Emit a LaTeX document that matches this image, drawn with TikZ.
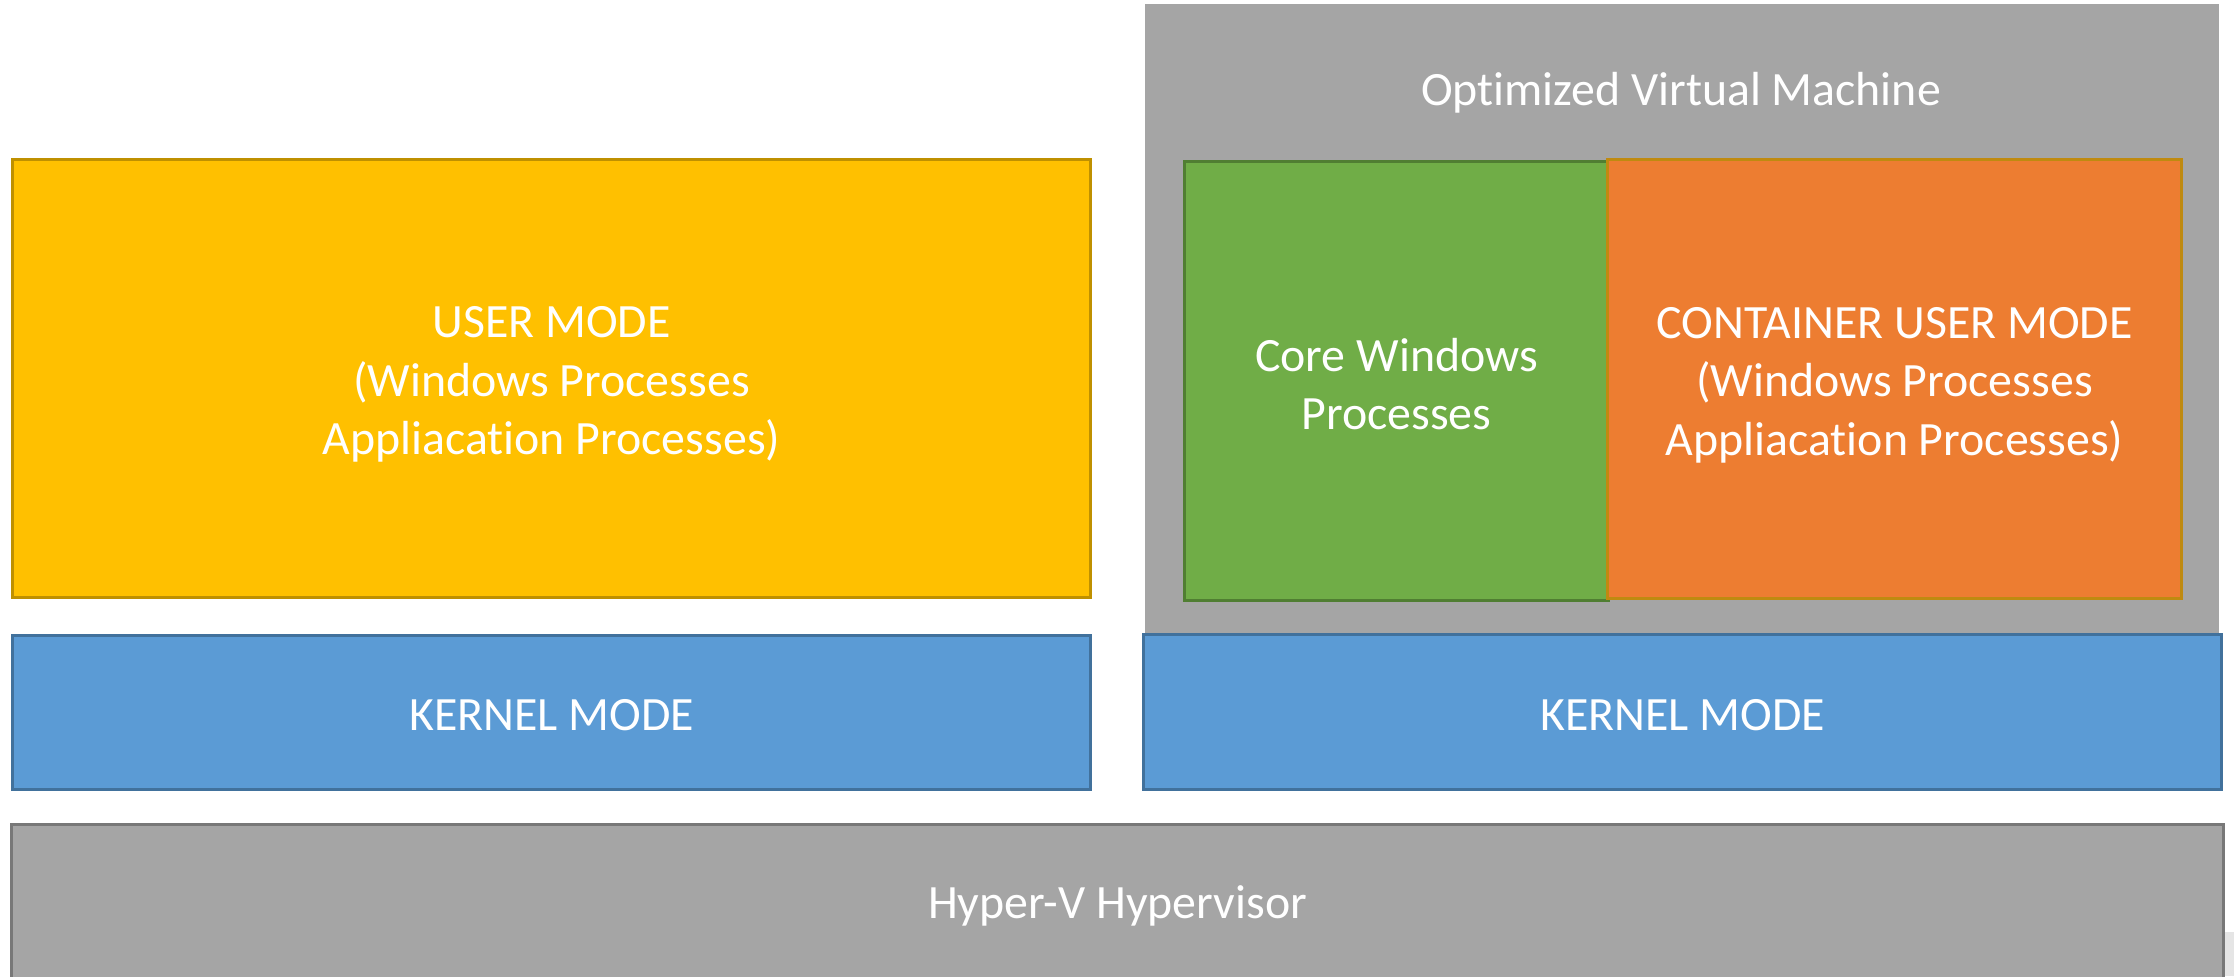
\documentclass[tikz,border=0pt]{standalone}
\usepackage{fontspec}
\setmainfont{Carlito}[Ligatures=NoCommon]
\usepackage{tikz}
\definecolor{umode}{HTML}{FFC000}
\definecolor{umodeline}{HTML}{BF9000}
\definecolor{kmode}{HTML}{5B9BD5}
\definecolor{kmodeline}{HTML}{41719C}
\definecolor{hvgray}{HTML}{A5A5A5}
\definecolor{hvline}{HTML}{787878}
\definecolor{core}{HTML}{70AD47}
\definecolor{coreline}{HTML}{507E32}
\definecolor{cont}{HTML}{ED7D31}
\definecolor{contline}{HTML}{BF8A10}
\def\TXT{\fontsize{13.6}{16.6}\selectfont}

\begin{document}
\begin{tikzpicture}[x=0.01cm,y=-0.01cm,
  layer/.style={rectangle,inner sep=0pt,line width=0.85pt},
  txt/.style={text=white,align=center,font=\TXT,yshift=-0.03cm}]
\useasboundingbox (0,0) rectangle (2234,976);
\begin{scope}
\clip (0,0) rectangle (2234,976);
% host side
\node[layer,fill=umode,draw=umodeline,minimum width=10.77cm,minimum height=4.37cm,
  label={[txt,yshift=-0.03cm]center:USER MODE\\(Windows Processes\\Appliacation Processes)}]
  (user) at (551.5,378.5) {};
\node[layer,fill=kmode,draw=kmodeline,minimum width=10.77cm,minimum height=1.53cm,
  label={[txt]center:KERNEL MODE}]
  (kernL) at (551.5,712.5) {};
% optimized VM
\node[layer,fill=hvgray,minimum width=10.74cm,minimum height=6.30cm]
  (vm) at (1682,319) {};
\node[txt] (vmlabel) at (1681,90) {Optimized Virtual Machine};
\node[layer,fill=core,draw=coreline,minimum width=4.23cm,minimum height=4.38cm,
  label={[txt]center:Core Windows\\Processes}]
  (core) at (1396.5,381) {};
\node[layer,fill=cont,draw=contline,minimum width=5.73cm,minimum height=4.38cm,
  label={[txt,yshift=-0.03cm]center:CONTAINER USER MODE\\(Windows Processes\\Appliacation Processes)}]
  (cont) at (1894.5,379) {};
\node[layer,fill=kmode,draw=kmodeline,minimum width=10.77cm,minimum height=1.54cm,
  label={[txt]center:KERNEL MODE}]
  (kernR) at (1682.5,712) {};
% hypervisor
\fill[black!10] (2223,932) rectangle (2234,976);
\node[layer,fill=hvgray,draw=hvline,minimum width=22.11cm,minimum height=1.55cm,
  label={[txt]center:Hyper-V Hypervisor}]
  (hyperv) at (1117.5,902.5) {};
\end{scope}
\end{tikzpicture}
\end{document}
